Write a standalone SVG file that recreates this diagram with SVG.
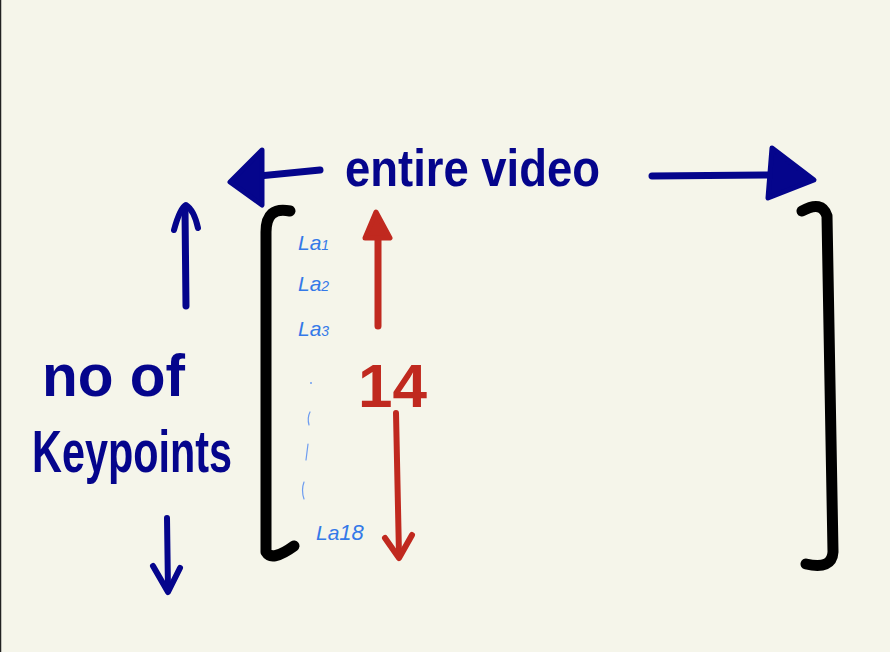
<svg xmlns="http://www.w3.org/2000/svg" width="890" height="652" viewBox="0 0 890 652">
<style>
.navy{fill:none;stroke:#05058c;stroke-linecap:round;stroke-linejoin:round}
.red{fill:none;stroke:#c0291f;stroke-linecap:round;stroke-linejoin:round}
.blk{fill:none;stroke:#000;stroke-width:11;stroke-linecap:round;stroke-linejoin:round}
.hand{font-family:"Liberation Sans",Arial,sans-serif}
.nt{fill:#05058c;font-weight:bold}
.bt{fill:#3479e8;font-size:21px}
.dot{fill:none;stroke:#6d9cf0;stroke-width:1.2;stroke-linecap:round}
</style>
<rect width="890" height="652" fill="#f5f5ea"/>
<line x1="0.5" y1="0" x2="0.5" y2="652" stroke="#222" stroke-width="1.5"/>
<g id="matrix">
<path class="blk" d="M290 211 Q266 206 266 232 L266 552 Q272 562 294 546"/>
<path class="blk" d="M802 211 Q822 200 827 216 L833 552 Q832 570 806 564"/>
</g>
<g id="title">
<text class="hand nt" x="345" y="186" font-size="52" textLength="255" lengthAdjust="spacingAndGlyphs">entire video</text>
</g>
<g id="axis-label">
<text class="hand nt" x="42" y="396" font-size="60" textLength="143" lengthAdjust="spacingAndGlyphs">no of</text>
<text class="hand nt" x="32" y="472" font-size="60" textLength="200" lengthAdjust="spacingAndGlyphs">Keypoints</text>
</g>
<g id="labels">
<text class="hand bt" x="298" y="250" font-style="italic">La<tspan font-size="14">1</tspan></text>
<text class="hand bt" x="298" y="291" font-style="italic">La<tspan font-size="14">2</tspan></text>
<text class="hand bt" x="298" y="336" font-style="italic">La<tspan font-size="14">3</tspan></text>
<text class="hand bt" x="316" y="540" font-size="34" font-style="italic">La<tspan font-size="22">18</tspan></text>
<text class="hand" x="358" y="407" font-size="62" font-weight="bold" fill="#c0291f">14</text>
<circle cx="311" cy="383" r="1" fill="#6d9cf0"/>
<path class="dot" d="M310 412 Q307 418 309 425"/>
<path class="dot" d="M308 444 L306 460"/>
<path class="dot" d="M304 482 Q301 490 304 499"/>
</g>
<g id="connectors">
<path class="navy" stroke-width="7" d="M320 170 L240 178"/>
<path d="M262 150 L230 182 L262 205 Z" fill="#05058c" stroke="#05058c" stroke-width="5" stroke-linejoin="round"/>
<path class="navy" stroke-width="7" d="M652 176 L775 175"/>
<path d="M772 148 L814 180 L768 198 Z" fill="#05058c" stroke="#05058c" stroke-width="5" stroke-linejoin="round"/>
<path class="navy" stroke-width="7" d="M186 306 L185 210"/>
<path class="navy" stroke-width="6" d="M174 230 Q180 208 186 205 Q194 210 198 228"/>
<path class="navy" stroke-width="6" d="M167 518 L168 590"/>
<path class="navy" stroke-width="6" d="M153 566 L168 592 L180 568"/>
<path class="red" stroke-width="7" d="M378 326 L378 228"/>
<path d="M365 238 L376 212 L390 238 Z" fill="#c0291f" stroke="#c0291f" stroke-width="5" stroke-linejoin="round"/>
<path class="red" stroke-width="6" d="M396 413 L399 555"/>
<path class="red" stroke-width="6" d="M385 538 L399 558 L412 535"/>
</g>
</svg>
